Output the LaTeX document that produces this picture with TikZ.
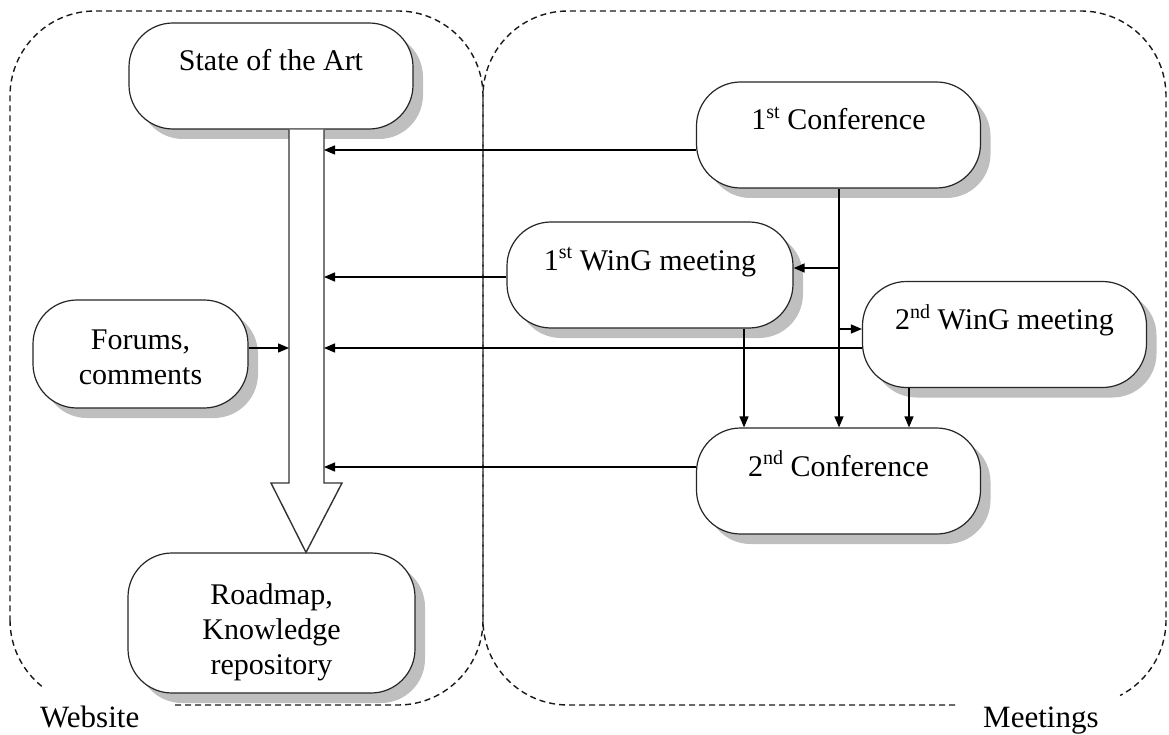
\documentclass[tikz,border=0pt]{standalone}
\usepackage{fontspec}
\setmainfont{Liberation Serif}
\usetikzlibrary{arrows.meta,shadows,calc}
\newcommand\sups[1]{\raisebox{0.37em}{\fontsize{20}{20}\selectfont #1}}
\begin{document}
\begin{tikzpicture}[x=1pt,y=-1pt,
  region/.style={draw=black!90, line width=1.4pt, dash pattern=on 6pt off 4pt},
  box/.style={draw=black!85, line width=1.2pt, fill=white, rounded corners=44pt,
     inner xsep=0pt, inner ysep=0pt, minimum width=284pt, minimum height=106pt,
     font=\fontsize{30}{35}\selectfont, align=center,
     drop shadow={shadow xshift=10pt, shadow yshift=-10pt, fill=black!25, opacity=1}},
  toptext/.style={text height=48pt, text depth=58pt},
  conn/.style={draw=black, line width=1.3pt, -{Triangle[length=11pt,width=9pt]}},
  bigarrow/.style={draw=black!80, line width=1.4pt, fill=white, line join=miter},
  lab/.style={font=\fontsize{31}{35}\selectfont, inner sep=0pt, anchor=base west}
]
\useasboundingbox (0,0) rectangle (1169,735);
% dashed regions
\draw[region, rounded corners=85pt] (175,705) -- (483,705) -- (483,11) -- (10,11) -- (10,620);
\draw[region] (10,620) .. controls (10,648.2) and (23.7,673.2) .. (44.8,688.6);
\draw[region, rounded corners=85pt] (955,705) -- (483,705) -- (483,11) -- (1166,11) -- (1166,620);
\draw[region] (1166,620) .. controls (1166,652.9) and (1147.4,681.4) .. (1120.1,695.5);
% nodes
\node[box, toptext] (sota) at (271,76) {State of the Art};
\node[box, toptext] (c1) at (838.5,135) {1\sups{st} Conference};
\node[box, toptext, minimum width=286pt] (w1) at (650,275) {1\sups{st} WinG meeting};
\node[box, toptext] (w2) at (1004.5,334.5) {2\sups{nd} WinG meeting};
\node[box, toptext] (c2) at (838.5,481) {2\sups{nd} Conference};
\node[box, minimum width=215pt, minimum height=108pt] (forum) at (140.5,354) {\rule{0pt}{26pt}Forums,\\comments};
\node[box, minimum width=287pt, minimum height=140pt] (road) at (271.5,623) {\rule{0pt}{40pt}Roadmap,\\Knowledge\\repository};
% big arrow
\coordinate (sl) at (289,0);
\coordinate (sr) at (324,0);
\draw[bigarrow] (sota.south -| sl) -- (289,483) -- (271,483) -- (road.north -| 306,0) -- (342,483) -- (324,483) -- (sota.south -| sr);
% connectors
\draw[conn] (c1.west |- 0,150) -- (sr |- 0,150);
\draw[conn] (w1.west |- 0,277) -- (sr |- 0,277);
\draw[conn] (w2.west |- 0,348) -- (sr |- 0,348);
\draw[conn] (forum.east |- 0,348) -- (sl |- 0,348);
\draw[conn] (c2.west |- 0,467) -- (sr |- 0,467);
\draw[conn] (c1.south -| 839,0) -- (c2.north -| 839,0);
\coordinate (b1) at (839,268);
\coordinate (b2) at (839,329);
\draw[conn] (b1) -- (w1.east |- b1);
\draw[conn] (b2) -- (w2.west |- b2);
\draw[conn] (w1.south -| 744,0) -- (c2.north -| 744,0);
\draw[conn] (w2.south -| 909,0) -- (c2.north -| 909,0);
% labels
\node[lab] (web) at (40,727) {Website};
\node[lab] (meet) at (983,727) {Meetings};
\end{tikzpicture}
\end{document}
